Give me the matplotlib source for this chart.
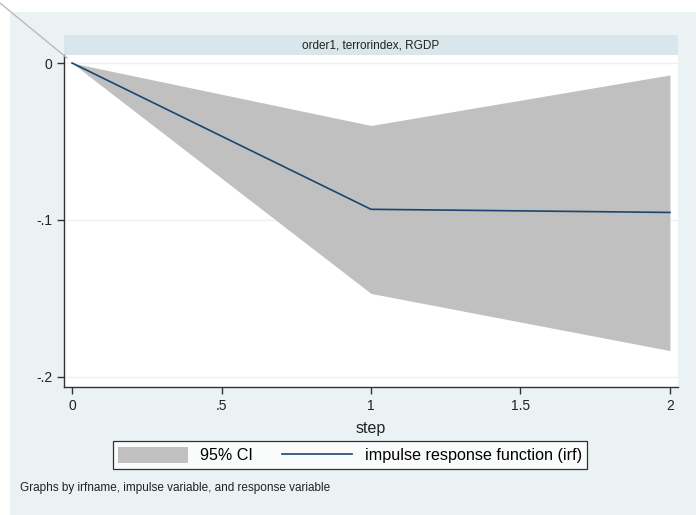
import numpy as np
import matplotlib
matplotlib.use("Agg")
import matplotlib.pyplot as plt
from matplotlib.patches import Rectangle
from matplotlib.lines import Line2D

# irf values
steps = [0, 1, 2]
irf = [0.0, -0.0932, -0.0952]
ci_lower = [0.0, -0.1468, -0.1832]
ci_upper = [0.0, -0.0398, -0.0076]

panel_title = "order1, terrorindex, RGDP"
xticks = [0, 0.5, 1, 1.5, 2]
xtick_labels = ["0", ".5", "1", "1.5", "2"]
yticks = [0, -0.1, -0.2]
ytick_labels = ["0", "-.1", "-.2"]

plt.rcParams['font.family'] = ['Liberation Sans Narrow', 'Liberation Sans', 'DejaVu Sans']

W, H = 696, 515
fig = plt.figure(figsize=(W / 100, H / 100), dpi=100)
fig.patch.set_facecolor("white")


def fx(px):
    return px / W


def fy(py):
    return 1 - py / H


# outer light panel
fig.patches.append(Rectangle((fx(10), 0), 1 - fx(10), fy(12), transform=fig.transFigure,
                             facecolor="#EAF2F3", edgecolor="none", zorder=-2))
# header strip
fig.patches.append(Rectangle((fx(64), fy(55)), fx(678) - fx(64), fy(35) - fy(55),
                             transform=fig.transFigure, facecolor="#D9E6EB",
                             edgecolor="none", zorder=-1))
fig.text(fx(371), fy(45), panel_title, ha="center", va="center", fontsize=8.5, color="#222222")

# stray diagonal line in the corner
fig.lines.append(Line2D([fx(0), fx(67)], [fy(3), fy(58)], transform=fig.transFigure,
                        color="#BBBBBB", lw=1.0, zorder=5))

ax = fig.add_axes([fx(64), fy(387), fx(678) - fx(64), fy(55) - fy(387)])
ax.set_zorder(2)
ax.set_facecolor("white")
ax.fill_between(steps, ci_lower, ci_upper, color="#C0C0C0", lw=0, label="95% CI", zorder=2)
ax.plot(steps, irf, color="#1A476F", lw=1.2, label="impulse response function (irf)", zorder=3)

ax.set_xlim(-0.027, 2.027)
ax.set_ylim(-0.2064, 0.0051)
ax.set_xticks(xticks)
ax.set_xticklabels(xtick_labels)
ax.set_yticks(yticks)
ax.set_yticklabels(ytick_labels)
ax.grid(axis="y", color="#EAF2F3", lw=1.0, zorder=1)
ax.grid(axis="x", visible=False)
ax.set_axisbelow(True)
for s in ["top", "right"]:
    ax.spines[s].set_visible(False)
for s in ["left", "bottom"]:
    ax.spines[s].set_color("#333333")
    ax.spines[s].set_linewidth(1.0)
ax.tick_params(direction="out", length=5, width=1, color="#333333", labelsize=10, labelcolor="#222222")
ax.set_xlabel("step", fontsize=11.5, color="#222222", labelpad=6)

handles, labels = ax.get_legend_handles_labels()
leg = fig.legend(handles, labels, loc="center", bbox_to_anchor=(fx(350), fy(455)), ncol=2,
                 fancybox=False, frameon=True, edgecolor="black", fontsize=11.6,
                 handlelength=4.3, handleheight=1.2, columnspacing=1.8, borderpad=0.35,
                 handletextpad=0.8)
leg.get_frame().set_linewidth(0.9)
leg.set_zorder(4)

fig.text(fx(20), fy(488), "Graphs by irfname, impulse variable, and response variable",
         ha="left", va="center", fontsize=8.5, color="#222222")

fig.savefig("out.png", dpi=100, facecolor=fig.get_facecolor())
